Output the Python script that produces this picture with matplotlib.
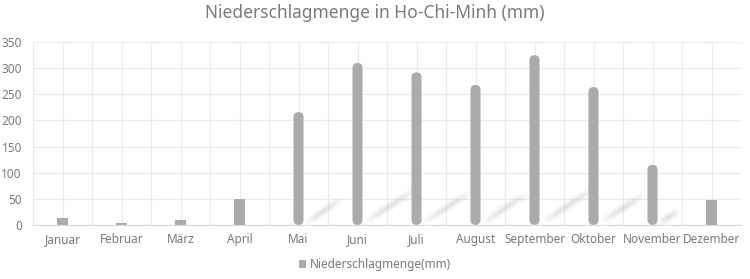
import matplotlib

matplotlib.use("Agg")
import matplotlib.pyplot as plt
import numpy as np
from matplotlib.collections import LineCollection
from matplotlib.patches import FancyBboxPatch

plt.rcParams["font.family"] = ["Noto Sans", "DejaVu Sans"]

months = ["Januar", "Februar", "März", "April", "Mai", "Juni", "Juli",
          "August", "September", "Oktober", "November", "Dezember"]
rain_mm = [13, 3, 9, 49, 216, 310, 292, 268, 325, 264, 115, 47]
series_name = "Niederschlagmenge(mm)"
title = "Niederschlagmenge in Ho-Chi-Minh (mm)"

BAR_COLOR = "#ababab"
TEXT_COLOR = "#7a7a7a"
GRID_COLOR = "#ebebeb"
BAR_WIDTH = 0.17

fig = plt.figure(figsize=(7.5, 2.79), dpi=100)
ax = fig.add_axes([0.044, 0.194, 0.944, 0.655])

x = np.arange(len(months))
ax.set_xlim(-0.5, len(months) - 0.5)
ax.set_ylim(0, 350)

# aspect so the rounded tops stay circular on screen
fig.canvas.draw()
bbox = ax.get_window_extent()
units_x = (len(months)) / bbox.width
units_y = 350 / bbox.height
aspect = units_y / units_x

# soft diagonal reflections behind the taller bars
for xi, v in zip(x, rain_mm):
    if v < 60:
        continue
    x0 = xi + BAR_WIDTH / 2 + 0.03
    x1 = x0 + 0.0028 * v
    y0, y1 = 3, 3 + 0.21 * v
    n = 30
    t = np.linspace(0, 1, n + 1)
    xs = x0 + (x1 - x0) * t
    ys = y0 + (y1 - y0) * t
    segs = [[(xs[i], ys[i]), (xs[i + 1], ys[i + 1])] for i in range(n)]
    alphas = np.sin(np.pi * t[:-1])
    for lw, a in [(7, 0.08), (4.5, 0.12), (2.5, 0.18)]:
        cols = [(0.7, 0.7, 0.7, float(al * a)) for al in alphas]
        ax.add_collection(LineCollection(segs, colors=cols, linewidths=lw,
                                         capstyle="butt", zorder=1))

bars = ax.bar(x, rain_mm, width=BAR_WIDTH, color=BAR_COLOR, zorder=2,
              label=series_name)
for rect, v in zip(bars, rain_mm):
    if v < 60:
        continue
    rect.set_visible(False)
    r = BAR_WIDTH / 2
    ax.add_patch(FancyBboxPatch(
        (rect.get_x(), 0), rect.get_width(), v,
        boxstyle=f"round,pad=0,rounding_size={r}",
        mutation_aspect=aspect, facecolor=BAR_COLOR, edgecolor="none",
        zorder=2))

ax.set_xticks(x)
ax.set_xticklabels(months)
ax.set_xticks(np.arange(-0.5, len(months), 0.5), minor=True)
ax.set_yticks(np.arange(0, 351, 50))
ax.grid(which="minor", axis="x", color=GRID_COLOR, linewidth=0.9, zorder=0)
ax.grid(which="major", axis="x", color=GRID_COLOR, linewidth=0.9, zorder=0)
ax.grid(which="major", axis="y", color=GRID_COLOR, linewidth=0.9, zorder=0)
ax.tick_params(which="both", length=0, labelsize=8.5, labelcolor=TEXT_COLOR)
ax.tick_params(axis="y", pad=8)
ax.tick_params(axis="x", pad=6)
for side in ["top", "right", "left"]:
    ax.spines[side].set_visible(False)
ax.spines["bottom"].set_color("#d9d9d9")
ax.set_axisbelow(True)

fig.suptitle(title, x=0.5, y=0.985, fontsize=12.5, color=TEXT_COLOR,
             va="top")
fig.legend(handles=[bars], labels=[series_name], loc="lower center",
           bbox_to_anchor=(0.5, -0.01), frameon=False, fontsize=8.5,
           labelcolor=TEXT_COLOR, handlelength=0.6, handleheight=0.6,
           handletextpad=0.4)

fig.savefig("out.png", dpi=100)
